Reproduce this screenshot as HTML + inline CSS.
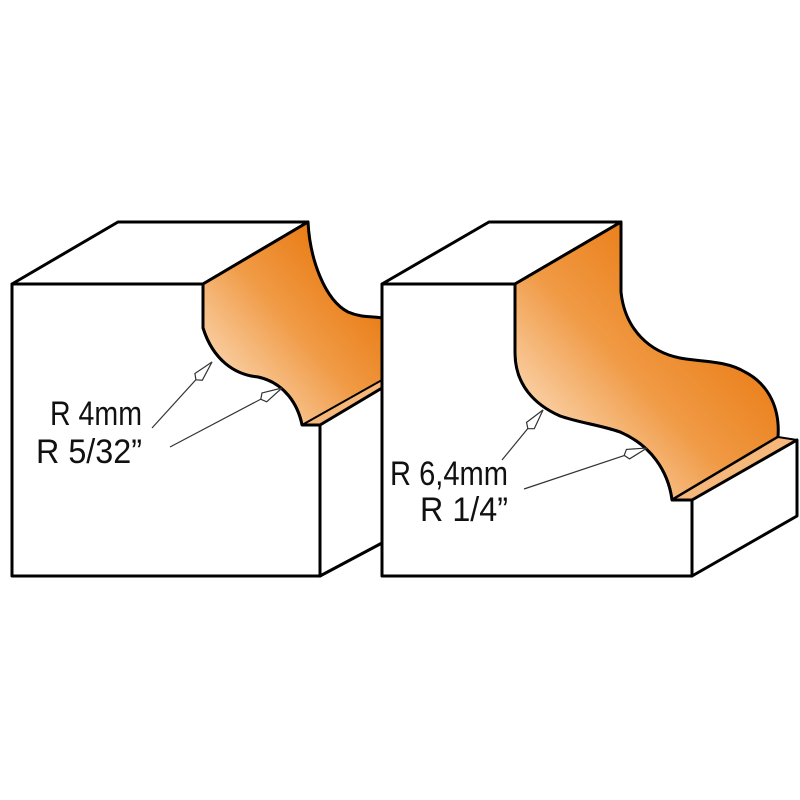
<!DOCTYPE html>
<html><head><meta charset="utf-8"><style>html,body{margin:0;padding:0;background:#fff}svg{display:block}</style></head>
<body>
<svg width="800" height="800" viewBox="0 0 800 800" xmlns="http://www.w3.org/2000/svg">
<defs>
<linearGradient id="g" x1="0" y1="1" x2="1" y2="0">
<stop offset="0.05" stop-color="#fde6cc"/>
<stop offset="0.5" stop-color="#f09a45"/>
<stop offset="0.85" stop-color="#e8760c"/>
</linearGradient>
<linearGradient id="g2" x1="0" y1="1" x2="1" y2="0">
<stop offset="0.1" stop-color="#fde6cc"/>
<stop offset="0.45" stop-color="#f09a45"/>
<stop offset="0.8" stop-color="#e8760c"/>
</linearGradient>
</defs>
<g stroke="#000" stroke-width="3" stroke-linejoin="round" fill="none">
<path d="M12,284 L118,222 L308,222 L203,284 Z" fill="#fff"/>
<path d="M203,284 L308,222 C310,260 325,300 348,312 C362,318 372,316 382,318 L382,385 L320,422 L302,425 C298,405 285,383 258,377 C235,375 213,360 203,328 Z" fill="url(#g)"/>
<path d="M302,425 L320,425 L382,388 L382,380 Z" fill="#f6b77a" stroke-width="2"/>
<path d="M12,284 L203,284 L203,328 C213,360 235,375 258,377 C285,383 298,405 302,425 L320,425 L320,576 L12,576 Z" fill="#fff"/>
<path d="M320,425 L382,388 L382,543 L320,576 Z" fill="#fff"/>
<path d="M382,284 L489,222 L621,222 L515,284 Z" fill="#fff"/>
<path d="M515,284 L621,222 L621,292 C625,330 650,352 680,358 C700,362 725,360 745,372 C770,385 780,410 778,437 L672,500 C668,470 650,445 620,432 C600,425 580,423 560,416 C535,405 515,385 515,353 Z" fill="url(#g2)"/>
<path d="M672,500 L692,500 L797,440 L778,437 Z" fill="#f6b77a" stroke-width="2"/>
<path d="M382,284 L515,284 L515,353 C515,385 535,405 560,416 C580,423 600,425 620,432 C650,445 668,470 672,500 L692,500 L692,576 L382,576 Z" fill="#fff"/>
<path d="M692,500 L797,440 L797,516 L692,576 Z" fill="#fff"/>
</g>
<g stroke="#333" stroke-width="1.2" fill="#fff">
<line x1="152" y1="428" x2="212" y2="362"/>
<line x1="170" y1="447" x2="282" y2="388"/>
<line x1="502" y1="460" x2="543" y2="410"/>
<line x1="524" y1="489" x2="647" y2="448"/>
<g transform="translate(212,362) rotate(132)"><path d="M0,0 L20,-5 L24,0 L20,5 Z"/></g>
<g transform="translate(282,388) rotate(152)"><path d="M0,0 L20,-5 L24,0 L20,5 Z"/></g>
<g transform="translate(543,410) rotate(129)"><path d="M0,0 L20,-5 L24,0 L20,5 Z"/></g>
<g transform="translate(647,448) rotate(162)"><path d="M0,0 L20,-5 L24,0 L20,5 Z"/></g>
</g>
<g font-family="Liberation Sans, sans-serif" font-size="34" fill="#111">
<text x="50" y="425" textLength="92" lengthAdjust="spacingAndGlyphs">R 4mm</text>
<text x="36" y="463" textLength="106" lengthAdjust="spacingAndGlyphs">R 5/32”</text>
<text x="390" y="485" textLength="118" lengthAdjust="spacingAndGlyphs">R 6,4mm</text>
<text x="420" y="521" textLength="88" lengthAdjust="spacingAndGlyphs">R 1/4”</text>
</g>
</svg>
</body></html>
